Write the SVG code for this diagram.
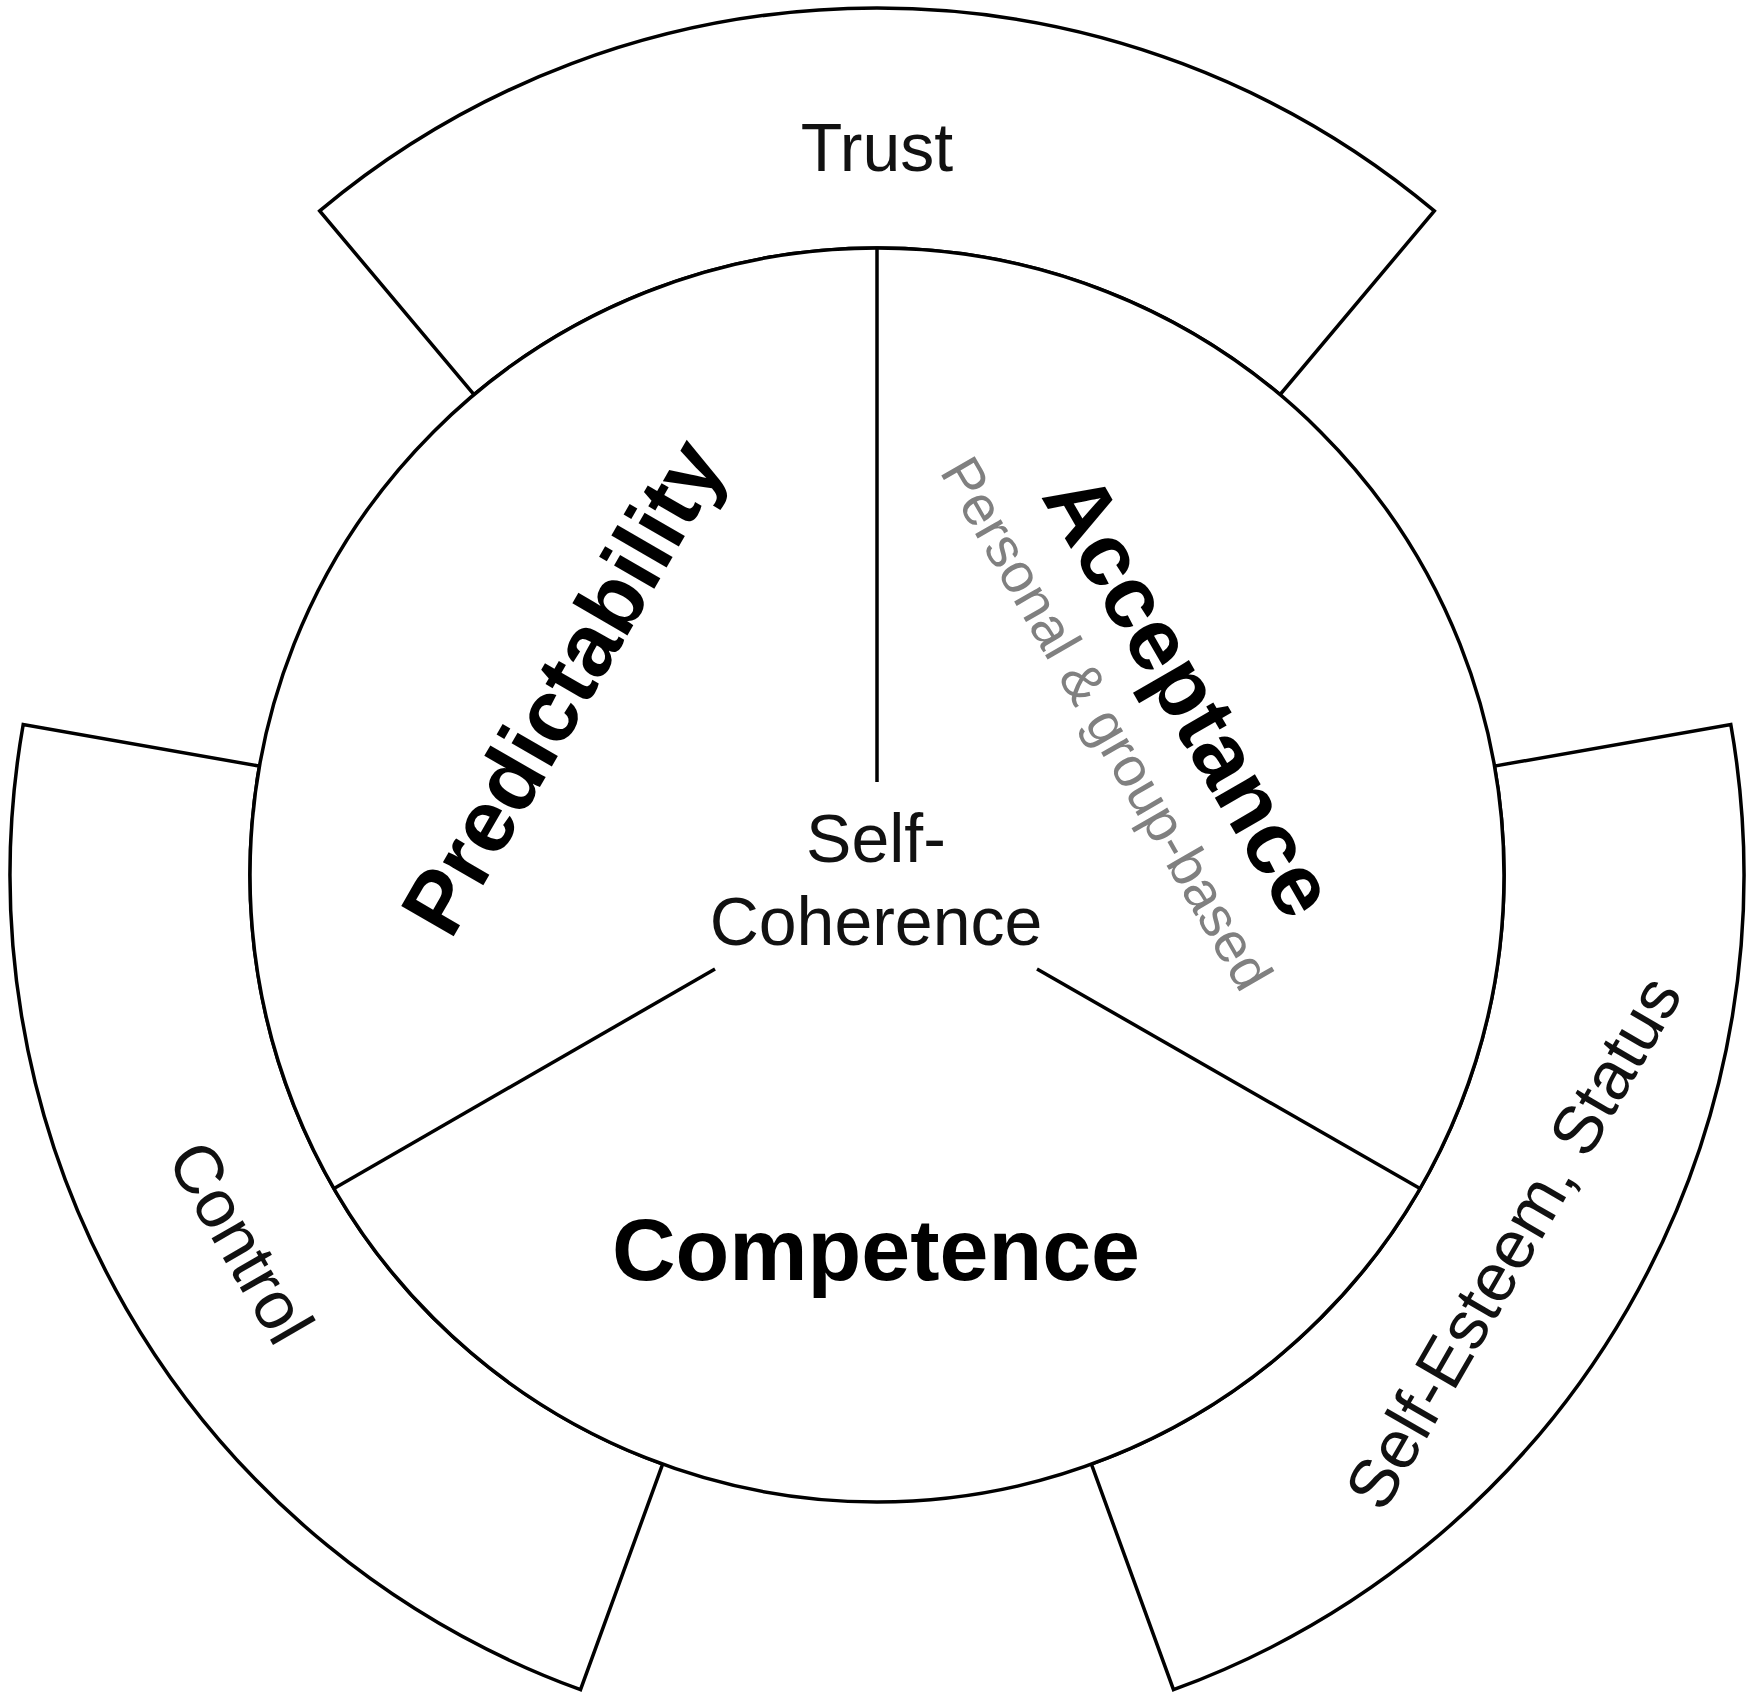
<svg xmlns="http://www.w3.org/2000/svg" width="1746" height="1700" viewBox="0 0 1746 1700">
  <style>
    .shape { fill: #ffffff; stroke: #000000; stroke-width: 3.5; stroke-linejoin: miter; }
    .line { stroke: #000000; stroke-width: 3.5; fill: none; }
    .light { font-family: "Liberation Sans", Arial, sans-serif; font-size: 68px; fill: #111111; text-anchor: middle; }
    .bold { font-family: "Liberation Sans", Arial, sans-serif; font-size: 88px; font-weight: bold; fill: #000000; text-anchor: middle; }
    .sub { font-family: "Liberation Sans", Arial, sans-serif; font-size: 56px; fill: #808080; text-anchor: middle; }
  </style>
  <rect x="0" y="0" width="1746" height="1700" fill="#ffffff"/>

  <g id="trust">
    <path class="shape" d="M 474 394.7 L 319.7 210.9 A 867 867 0 0 1 1434.3 210.9 L 1280 394.7 A 627 627 0 0 0 474 394.7 Z"/>
    <text class="light" x="877" y="171">Trust</text>
  </g>

  <g id="control">
    <path class="shape" d="M 259.5 766.1 L 23.2 724.5 A 867 867 0 0 0 580.5 1689.7 L 662.6 1464.2 A 627 627 0 0 1 259.5 766.1 Z"/>
    <text class="light" x="0" y="0" transform="translate(220.6 1254) rotate(60)">Control</text>
  </g>

  <g id="self-esteem">
    <path class="shape" d="M 1091.4 1464.2 L 1173.5 1689.7 A 867 867 0 0 0 1730.8 724.5 L 1494.5 766.1 A 627 627 0 0 1 1091.4 1464.2 Z"/>
    <text class="light" x="0" y="0" transform="translate(1533.4 1254) rotate(-60)">Self-Esteem, Status</text>
  </g>

  <g id="core">
    <circle class="shape" cx="877" cy="875" r="627"/>
  </g>

  <g id="connectors">
    <line class="line" x1="877" y1="248" x2="877" y2="782"/>
    <line class="line" x1="334" y1="1188.5" x2="715" y2="969"/>
    <line class="line" x1="1420" y1="1188.5" x2="1037" y2="969"/>
  </g>

  <g id="predictability">
    <text class="bold" x="0" y="0" transform="translate(589 702) rotate(-60)">Predictability</text>
  </g>

  <g id="acceptance">
    <text class="bold" x="0" y="0" transform="translate(1164 710) rotate(60)">Acceptance</text>
    <text class="sub" x="0" y="0" transform="translate(1090 733) rotate(60)">Personal &amp; group-based</text>
  </g>

  <g id="competence">
    <text class="bold" x="876" y="1280">Competence</text>
  </g>

  <g id="self-coherence">
    <text class="light" x="876" y="862">Self-</text>
    <text class="light" x="876" y="945">Coherence</text>
  </g>
</svg>
